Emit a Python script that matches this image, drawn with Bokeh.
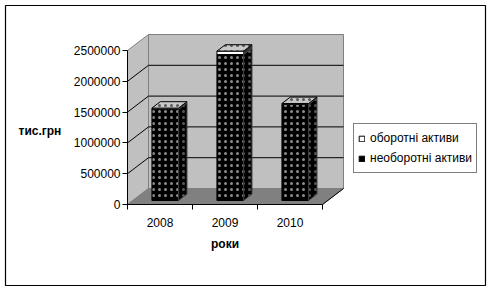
from bokeh.plotting import figure
from bokeh.models import (Range1d, LinearAxis, FixedTicker, BasicTickFormatter,
                          Legend, LegendItem, ColumnDataSource)
from bokeh.core.properties import value
from bokeh.embed import file_html
from bokeh.resources import INLINE

# ---- data ----
years = ["2008", "2009", "2010"]
current_assets = [20000, 55000, 15000]            # оборотні активи
noncurrent_assets = [1480000, 2370000, 1560000]   # необоротні активи
y_ticks = [0, 500000, 1000000, 1500000, 2000000, 2500000]
y_max = 2500000
series_names = ["оборотні активи", "необоротні активи"]
x_title = "роки"
y_title = "тис.грн"

FONT = "Liberation Sans"

# ---- pixel geometry (style) ----
W, H = 492, 292
BL, BR, BT, BB = 5, 485, 5, 285          # outer frame (border) in px
AX0, AY0 = 127, 204                      # px of the axis origin
PX_CAT = 65.0                            # px per category
PX_VAL = 154.0 / y_max                   # px per value unit
DEPTH_PX = (21.0, 16.0)                  # 3D depth vector in px
DX = DEPTH_PX[0] / PX_CAT
DY = DEPTH_PX[1] / PX_VAL
HW = 0.205                               # half bar width (category units)
D0, D1 = 0.25, 0.65                      # bar depth span (fraction)
HS, HWT, HA = 6, 0.4, 0.55               # hatch scale / weight / alpha

n = len(years)
p = figure(width=W, height=H, output_backend="svg", toolbar_location=None,
           x_axis_type=None, y_axis_type=None,
           x_range=Range1d(-(AX0 - BL) / PX_CAT, (BR - AX0) / PX_CAT),
           y_range=Range1d(-(BB - AY0) / PX_VAL, (AY0 - BT) / PX_VAL),
           min_border_left=BL, min_border_right=W - BR,
           min_border_top=BT, min_border_bottom=H - BB)
p.outline_line_color = "black"
p.outline_line_width = 1.2
p.background_fill_color = "white"
p.border_fill_color = "white"

WALL = "#c0c0c0"
FLOOR = "#808080"
EDGE = "#808080"

# left wall
p.patch([0, 0, DX, DX], [0, y_max, y_max + DY, DY],
        fill_color=WALL, line_color=EDGE, line_width=1)
# back wall
p.patch([DX, DX + n, DX + n, DX], [DY, DY, y_max + DY, y_max + DY],
        fill_color=WALL, line_color=EDGE, line_width=1)
# floor
p.patch([0, n, n + DX, DX], [0, 0, DY, DY],
        fill_color=FLOOR, line_color=FLOOR, line_width=1)
p.line([n, n + DX], [0, DY], line_color="black", line_width=1)

# gridlines on walls
for v in y_ticks[1:-1]:
    p.line([0, DX, DX + n], [v, v + DY, v + DY], line_color="black", line_width=1)

# bars
for i in range(n):
    xl = i + 0.5 - HW
    xr = i + 0.5 + HW
    segs = [
        (0, noncurrent_assets[i], "black", "white", "black", "dot", "black"),
        (noncurrent_assets[i], noncurrent_assets[i] + current_assets[i],
         "white", None, "black", None, "#303030"),
    ]
    for (y0, y1, fc, hc, lc, hp, sc) in segs:
        # front face
        p.patch([xl + D0 * DX, xr + D0 * DX, xr + D0 * DX, xl + D0 * DX],
                [y0 + D0 * DY, y0 + D0 * DY, y1 + D0 * DY, y1 + D0 * DY],
                fill_color=fc, line_color=lc, line_width=1,
                hatch_pattern=hp, hatch_color=hc, hatch_scale=HS,
                hatch_weight=HWT, hatch_alpha=HA)
        # side face
        p.patch([xr + D0 * DX, xr + D1 * DX, xr + D1 * DX, xr + D0 * DX],
                [y0 + D0 * DY, y0 + D1 * DY, y1 + D1 * DY, y1 + D0 * DY],
                fill_color=sc, line_color="#404040", line_width=1,
                hatch_pattern=hp, hatch_color="#a0a0a0", hatch_scale=HS,
                hatch_weight=HWT, hatch_alpha=HA)
    top = noncurrent_assets[i] + current_assets[i]
    p.patch([xl + D0 * DX, xr + D0 * DX, xr + D1 * DX, xl + D1 * DX],
            [top + D0 * DY, top + D0 * DY, top + D1 * DY, top + D1 * DY],
            fill_color="#c8c8c8", line_color="black", line_width=1,
            hatch_pattern="dot", hatch_color="black", hatch_scale=HS,
            hatch_weight=HWT, hatch_alpha=HA)

# axes (fixed at the 3D front edges)
yaxis = LinearAxis(ticker=FixedTicker(ticks=y_ticks),
                   formatter=BasicTickFormatter(use_scientific=False),
                   bounds=(0, y_max), fixed_location=0)
yaxis.major_tick_out = 5
yaxis.major_tick_in = 0
yaxis.minor_tick_line_color = None
yaxis.major_label_standoff = 2
yaxis.major_label_text_font = FONT
yaxis.major_label_text_font_size = "12px"
yaxis.major_label_text_color = "black"
yaxis.axis_line_color = "black"
p.add_layout(yaxis, "left")

xaxis = LinearAxis(ticker=FixedTicker(ticks=[i + 0.5 for i in range(n)],
                                      minor_ticks=list(range(n + 1))),
                   bounds=(0, n), fixed_location=0)
xaxis.major_label_overrides = {i + 0.5: years[i] for i in range(n)}
xaxis.major_tick_line_color = None
xaxis.major_tick_out = 0
xaxis.major_tick_in = 0
xaxis.minor_tick_out = 5
xaxis.minor_tick_in = 0
xaxis.minor_tick_line_color = "black"
xaxis.major_label_standoff = 8
xaxis.major_label_text_font = FONT
xaxis.major_label_text_font_size = "12px"
xaxis.major_label_text_color = "black"
p.add_layout(xaxis, "below")

# axis titles
p.text(x=[n / 2], y=[-(243 - AY0) / PX_VAL], text=[x_title],
       text_font=value(FONT), text_font_size="12px", text_font_style="bold",
       text_align="center", text_baseline="middle", text_color="black")
p.text(x=[-(AX0 - 18) / PX_CAT], y=[(AY0 - 130) / PX_VAL], text=[y_title],
       text_font=value(FONT), text_font_size="12px", text_font_style="bold",
       text_align="left", text_baseline="middle", text_color="black")

# legend (icons via off-range dummy quads)
nan = float("nan")
dummy = ColumnDataSource(dict(l=[nan], r=[nan], b=[nan], t=[nan]))
r_cur = p.quad(left="l", right="r", bottom="b", top="t", source=dummy,
               fill_color="white", line_color="black")
r_non = p.quad(left="l", right="r", bottom="b", top="t", source=dummy,
               fill_color="black", line_color="black")
legend = Legend(items=[LegendItem(label=series_names[0], renderers=[r_cur]),
                       LegendItem(label=series_names[1], renderers=[r_non])],
                location=(353 - BL, BB - 173))
legend.glyph_width = 7
legend.glyph_height = 7
legend.label_standoff = 5
legend.padding = 4
legend.spacing = 0
legend.margin = 0
legend.label_height = 20
legend.label_text_font = FONT
legend.label_text_font_size = "12px"
legend.label_text_color = "black"
legend.border_line_color = "black"
legend.border_line_width = 1
legend.background_fill_color = "white"
legend.background_fill_alpha = 1
p.add_layout(legend)

open("out.html", "w").write(file_html(p, INLINE))
